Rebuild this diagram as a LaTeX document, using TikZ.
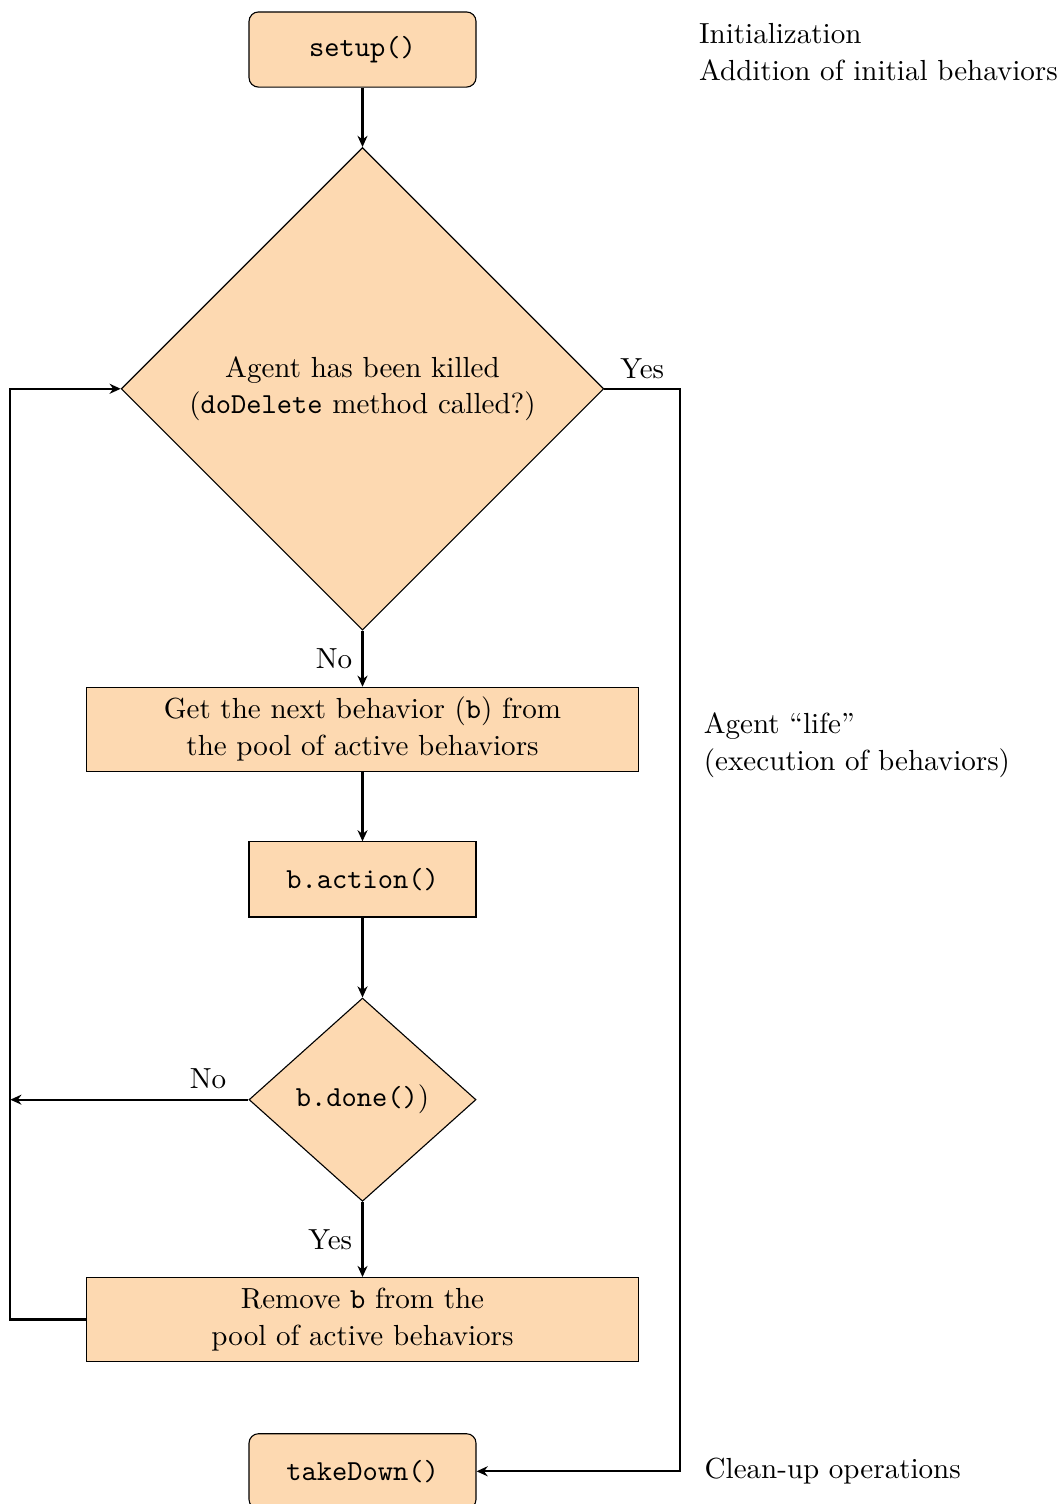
\documentclass[tikz,border=0pt]{standalone}
\usepackage{tikz}
\usetikzlibrary{shapes.geometric, arrows.meta, positioning}
\definecolor{agentpeach}{RGB}{253,217,177}
\newcommand{\flowsize}{\fontsize{10.45pt}{13.2pt}\selectfont}

\begin{document}
\begin{tikzpicture}[
        font=\flowsize,
        method/.style={draw, rounded corners=1.2mm, fill=agentpeach, minimum width=2.87cm, minimum height=0.95cm, font=\flowsize\ttfamily},
        task/.style={draw, fill=agentpeach, minimum width=6.97cm, minimum height=1.06cm, align=center},
        call/.style={draw, fill=agentpeach, minimum width=2.87cm, minimum height=0.95cm, font=\flowsize\ttfamily},
        check/.style={draw, diamond, fill=agentpeach, align=center, inner sep=0pt},
        flow/.style={-{Stealth[length=4pt, width=3.6pt]}, thick},
        note/.style={align=left}]
        \useasboundingbox (-4.583,0.626) rectangle (8.843,-18.388);

        \node[method] (setup) {setup()};
        \node[check, minimum width=6.1cm, minimum height=6.1cm, below=0.75cm of setup] (killed) {Agent has been killed\\(\texttt{doDelete} method called?)};
        \node[task, below=0.71cm of killed] (next) {Get the next behavior (\texttt{b}) from\\the pool of active behaviors};
        \node[call, below=0.88cm of next] (action) {b.action()};
        \node[check, minimum width=2.87cm, minimum height=2.57cm, below=1.01cm of action] (done) {\texttt{b.done()})};
        \node[task, below=0.95cm of done] (remove) {Remove \texttt{b} from the\\pool of active behaviors};
        \node[method, below=0.9cm of remove] (takedown) {takeDown()};

        \node[note, right=2.69cm of setup, yshift=-0.3mm] (init) {Initialization\\Addition of initial behaviors};
        \node[note, right=0.7cm of next, yshift=-2mm] (life) {Agent ``life''\\(execution of behaviors)};
        \node[note, right=2.76cm of takedown] (cleanup) {Clean-up operations};

        \draw[flow] (setup) -- (killed);
        \draw[flow] (killed) -- node[left] {No} (next);
        \draw[flow] (next) -- (action);
        \draw[flow] (action) -- (done);
        \draw[flow] (done) -- node[left] {Yes} (remove);
        \draw[flow] (remove.west) -- ++(-0.96,0) coordinate (back) |- (killed.west);
        \draw[flow] (done.west) -- node[above, pos=0.17] {No} (done.west -| back);
        \draw[flow] (killed.east) -- node[above] {Yes} ++(0.96,0) |- (takedown.east);
\end{tikzpicture}
\end{document}
